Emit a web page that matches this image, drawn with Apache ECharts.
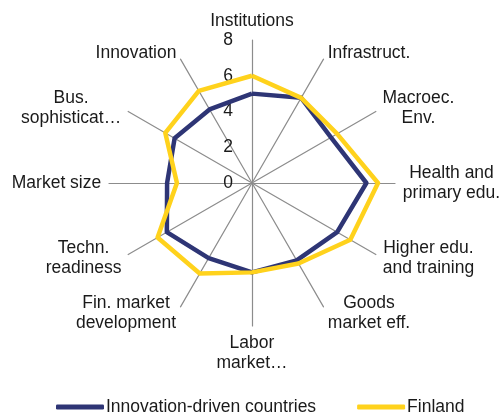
<!DOCTYPE html>
<html>
<head>
<meta charset="utf-8">
<script src="https://cdn.jsdelivr.net/npm/echarts@6/dist/echarts.min.js"></script>
<style>
  html, body { margin: 0; padding: 0; background: #fff; }
  #chart { width: 501px; height: 417px; }
</style>
</head>
<body>
<div id="chart"></div>
<script>
// pillar names (clockwise from top)
var pillars = ['Institutions', 'Infrastruct.', 'Macroec.\nEnv.', 'Health and\nprimary edu.',
  'Higher edu.\nand training', 'Goods\nmarket eff.', 'Labor\nmarket…', 'Fin. market\ndevelopment',
  'Techn.\nreadiness', 'Market size', 'Bus.\nsophisticat…', 'Innovation'];
var seriesNames = ['Innovation-driven countries', 'Finland'];
var innovationDriven = [5.0, 5.5, 5.1, 6.4, 5.5, 5.0, 5.0, 4.85, 5.5, 4.75, 5.0, 4.75];
var finland = [6.0, 5.5, 5.5, 7.05, 6.35, 5.2, 5.0, 5.85, 6.1, 4.2, 5.6, 5.95];
var tickMax = 8;

var FONT = '"Liberation Sans", Arial, sans-serif';
var FS = 17.5;

// echarts radar runs counter-clockwise, the original runs clockwise
var order = [0];
for (var k = pillars.length - 1; k > 0; k--) order.push(k);
function reorder(arr) {
  return order.map(function (i) { return arr[i]; });
}

// measure label lines so every line is centred inside its block, like the original
var ctx = document.createElement('canvas').getContext('2d');
ctx.font = FS + 'px ' + FONT;
var rich = {};
pillars.forEach(function (p, i) {
  var w = 0;
  p.split('\n').forEach(function (line) {
    w = Math.max(w, ctx.measureText(line).width);
  });
  rich['l' + i] = { width: Math.ceil(w) + 1, align: 'center', fontSize: FS, fontFamily: FONT, color: '#1a1a1a', lineHeight: 20 };
});

var indicators = reorder(pillars).map(function (p, i) {
  var ind = { name: p, min: 0, max: tickMax };
  if (i === 0) ind.axisLabel = { show: true };
  return ind;
});

var myChart = echarts.init(document.getElementById('chart'));
var option = {
  animation: false,
  legend: {
    top: 393,
    left: 51,
    itemWidth: 48,
    itemHeight: 5,
    itemGap: 41,
    icon: 'roundRect',
    textStyle: { fontSize: FS, fontFamily: FONT, color: '#1a1a1a', padding: [0, 0, 0, -3] },
    data: seriesNames
  },
  radar: {
    center: [252, 183],
    radius: 143,
    startAngle: 90,
    shape: 'polygon',
    splitNumber: 4,
    nameGap: 7,
    indicator: indicators,
    axisName: {
      fontSize: FS,
      fontFamily: FONT,
      color: '#1a1a1a',
      lineHeight: 20,
      rich: rich,
      formatter: function (name) {
        var i = pillars.indexOf(name);
        return name.split('\n').map(function (line) {
          return '{l' + i + '|' + line + '}';
        }).join('\n');
      }
    },
    axisLine: { show: true, lineStyle: { color: '#8c8c8c', width: 1.2 } },
    axisTick: { show: false },
    axisLabel: {
      show: false,
      fontSize: FS,
      fontFamily: FONT,
      color: '#1a1a1a',
      margin: 19
    },
    splitLine: { show: false },
    splitArea: { show: false }
  },
  series: [{
    type: 'radar',
    symbol: 'none',
    data: [
      { name: seriesNames[0], value: reorder(innovationDriven),
        lineStyle: { color: '#2e3575', width: 4.5 }, itemStyle: { color: '#2e3575' } },
      { name: seriesNames[1], value: reorder(finland),
        lineStyle: { color: '#ffd21c', width: 4.5 }, itemStyle: { color: '#ffd21c' } }
    ]
  }]
};
myChart.setOption(option);
</script>
</body>
</html>
